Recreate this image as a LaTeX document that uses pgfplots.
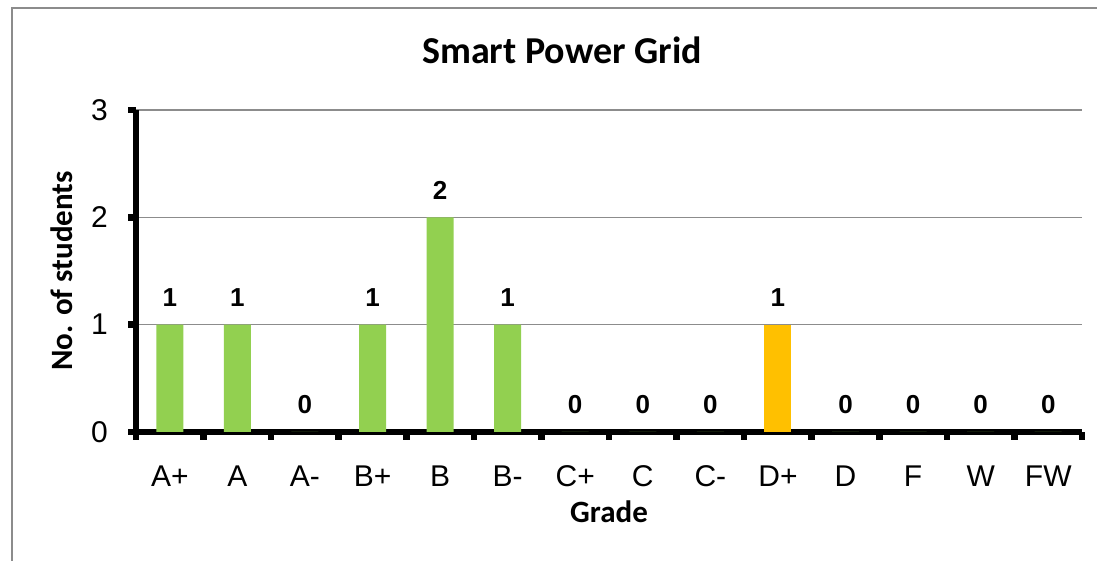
\documentclass[border=0pt]{standalone}
\usepackage{fontspec}
\setmainfont{Liberation Sans}
\newfontfamily\calibri{Carlito}
\usepackage{pgfplots}
\pgfplotsset{compat=1.18}
\definecolor{bargreen}{HTML}{92D050}
\definecolor{barorange}{HTML}{FFC000}
\definecolor{gridgray}{HTML}{8C8C8C}
\begin{document}
\begin{tikzpicture}[x=1bp,y=1bp]
\useasboundingbox (0,0) rectangle (1097,561);
\draw[gridgray, line width=2bp] (12,0) -- (12,553) -- (1097,553);
\begin{axis}[
  at={(136bp,129bp)}, anchor=south west,
  scale only axis, width=946bp, height=322bp,
  /pgf/number format/assume math mode=true,
  xmin=-0.5, xmax=13.5, ymin=0, ymax=3,
  ytick={0,1,2,3},
  xtick={-0.5,0.5,...,12.5},
  xticklabels={A+,A,A-,B+,B,B-,C+,C,C-,D+,D,F,W,FW},
  extra x ticks={13.5}, extra x tick labels={},
  axis x line*=bottom, axis y line*=left,
  axis line style={-, line width=6.5bp, black},
  tick align=outside, major tick length=8bp,
  tick style={line width=6.5bp, black},
  ymajorgrids, grid style={gridgray, line width=1.5bp},
  x tick label style={font=\fontsize{30bp}{36bp}\selectfont, anchor=base, yshift=-47bp, xshift=33.8bp, inner sep=0pt},
  y tick label style={font=\fontsize{30bp}{36bp}\selectfont, anchor=east, xshift=-20bp, inner sep=0pt},
  title={Smart Power Grid},
  title style={font=\calibri\bfseries\fontsize{38bp}{44bp}\selectfont, at={(axis description cs:0.5,1)}, anchor=base, yshift=41bp, xshift=-47bp, inner sep=0pt},
  xlabel={Grade},
  xlabel style={font=\calibri\bfseries\fontsize{31bp}{36bp}\selectfont, at={(axis description cs:0.5,0)}, anchor=base, yshift=-91bp, inner sep=0pt},
  ylabel={No. of students},
  ylabel style={font=\calibri\bfseries\fontsize{31bp}{36bp}\selectfont, at={(axis description cs:-0.0666,0.5)}, anchor=base, inner sep=0pt},
  ybar, bar width=27bp, bar shift=0pt,
  nodes near coords,
  every node near coord/.append style={font=\bfseries\fontsize{26bp}{30bp}\selectfont, anchor=base, yshift=18bp, inner sep=0pt, black},
  clip=false,
]
\addplot[fill=bargreen, draw=none] coordinates {(0,1) (1,1) (2,0) (3,1) (4,2) (5,1) (6,0) (7,0) (8,0) (10,0) (11,0) (12,0) (13,0)};
\addplot[fill=barorange, draw=none] coordinates {(9,1)};
\end{axis}
\end{tikzpicture}
\end{document}
